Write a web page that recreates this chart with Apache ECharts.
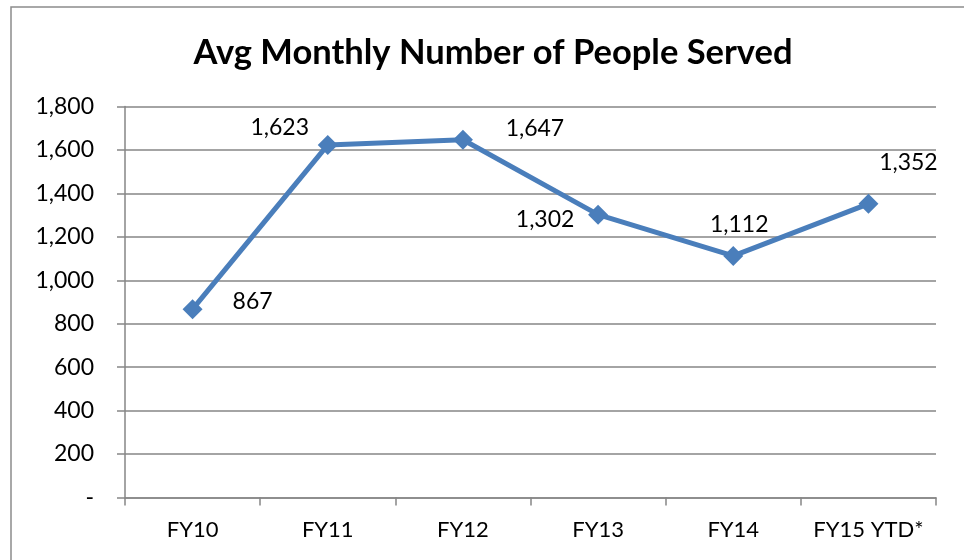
<!DOCTYPE html>
<html>
<head>
<meta charset="utf-8">
<script src="https://cdn.jsdelivr.net/npm/echarts@6/dist/echarts.min.js"></script>
<style>
html,body{margin:0;padding:0;background:#fff;}
#chart{width:964px;height:560px;}
</style>
</head>
<body>
<div id="chart"></div>
<script>
const categories = ['FY10', 'FY11', 'FY12', 'FY13', 'FY14', 'FY15 YTD*'];
const values = [867, 1623, 1647, 1302, 1112, 1352];
const yTicks = [0, 200, 400, 600, 800, 1000, 1200, 1400, 1600, 1800];
const labelOffsets = [[60, -8], [-48, -17], [72, -11], [-53, 5], [6, -31], [40, -41]];

const FONT = 'Lato, "Open Sans", "Noto Sans", sans-serif';
const chart = echarts.init(document.getElementById('chart'), null, {renderer: 'canvas'});
const fmt = v => v === 0 ? '-' : v.toLocaleString('en-US');

chart.setOption({
  animation: false,
  backgroundColor: '#ffffff',
  graphic: [{
    type: 'rect', z: -1,
    shape: {x: 11, y: 7, width: 1000, height: 600},
    style: {fill: 'none', stroke: '#8c8c8c', lineWidth: 1.5}
  }],
  title: {
    text: 'Avg Monthly Number of People Served',
    left: 488, top: 30, textAlign: 'center',
    textStyle: {fontFamily: FONT, fontWeight: 'bold', fontSize: 34.5, color: '#000'}
  },
  grid: {left: 125, right: 28, top: 106.5, bottom: 62.5, containLabel: false},
  xAxis: {
    type: 'category',
    data: categories,
    boundaryGap: true,
    axisLine: {lineStyle: {color: '#868686', width: 1.5}},
    axisTick: {show: true, interval: 0, length: 8, inside: false, alignWithLabel: false, lineStyle: {color: '#868686', width: 1.5}},
    axisLabel: {interval: 0, hideOverlap: false, fontFamily: FONT, fontSize: 22, color: '#000', margin: 21}
  },
  yAxis: {
    type: 'value',
    min: yTicks[0], max: yTicks[yTicks.length - 1], interval: 200,
    axisLine: {show: true, lineStyle: {color: '#868686', width: 1.5}},
    axisTick: {show: true, length: 8, lineStyle: {color: '#868686', width: 1.5}},
    axisLabel: {fontFamily: FONT, fontSize: 23, color: '#000', margin: 31, formatter: fmt},
    splitLine: {show: true, lineStyle: {color: '#868686', width: 1.5}}
  },
  series: [{
    type: 'line',
    data: values.map((v, i) => ({
      value: v,
      label: {offset: labelOffsets[i]}
    })),
    symbol: 'diamond',
    symbolSize: 20,
    showAllSymbol: true,
    lineStyle: {color: '#4A7EBB', width: 5},
    itemStyle: {color: '#4A7EBB'},
    label: {
      show: true,
      position: 'inside',
      fontFamily: FONT, fontSize: 23, color: '#000',
      formatter: p => fmt(p.value)
    }
  }]
});
</script>
</body>
</html>
